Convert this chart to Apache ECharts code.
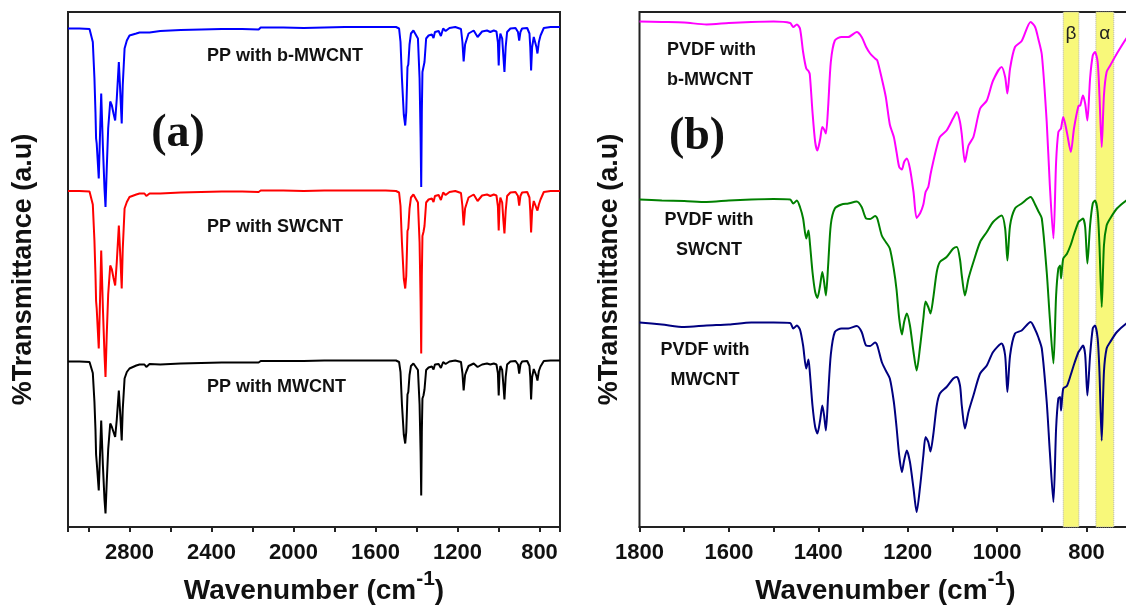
<!DOCTYPE html>
<html>
<head>
<meta charset="utf-8">
<script src="https://cdn.jsdelivr.net/npm/echarts@6.0.0/dist/echarts.min.js"></script>
<style>
html,body{margin:0;padding:0;background:#ffffff;}
#chart{width:1126px;height:605px;}
</style>
</head>
<body>
<div id="chart"></div>
<script>
// ---------- Panel (a): PP composites (wavenumber in cm-1, transmittance in a.u., offset) ----------
const ppWavenumber = [
  3100, 3044, 2995, 2987, 2979, 2971, 2966, 2963, 2960, 2955, 2950, 2943, 2938, 2930, 2922, 2917, 2911, 2904, 2894, 2886,
  2878, 2870, 2862, 2852, 2845, 2838, 2833, 2824, 2813, 2800, 2767, 2751, 2727, 2718, 2702,
  2650, 2550, 2450, 2350, 2250, 2170, 2160, 2050, 1950, 1850, 1750, 1650, 1550,
  1500, 1485, 1478, 1471, 1462, 1455, 1450, 1446, 1444, 1440, 1434, 1427, 1415, 1406, 1393, 1385, 1380, 1377, 1374, 1371,
  1366, 1361, 1353, 1341, 1325, 1317, 1310, 1292, 1281, 1270, 1258, 1251, 1239, 1211, 1183, 1176, 1170, 1163, 1157, 1146,
  1121, 1102, 1080, 1056, 1040, 1023, 1010, 1003, 999, 995, 991, 982, 976, 971, 965, 958, 942, 917, 905, 899,
  893, 885, 860, 849, 845, 841, 836, 828, 820, 815, 810, 803, 795, 779, 746, 700
];
const ppBMWCNT = [
  99.7, 99.7, 99.6, 99.3, 97, 89.7, 83, 77.7, 76.7, 76.3, 69.7, 79.7, 86.7, 76.3, 67.7, 64, 71.7, 79.7, 85.1, 84.3,
  82.7, 81.3, 85.7, 93, 87, 80.7, 88.3, 95.7, 97.3, 98.3, 98.7, 98.9, 98.9, 98.5, 98.9,
  99.2, 99.4, 99.5, 99.6, 99.6, 99.5, 99.9, 99.9, 99.8, 99.9, 100, 100, 100,
  100, 99.7, 97, 89.7, 82.5, 80.3, 83, 89, 92, 92.5, 96.5, 98.7, 99.3, 99.3, 97.7, 89.7, 78, 68, 83, 91,
  91.3, 93, 97.7, 98.3, 98.5, 97.8, 99, 99.2, 98.2, 99.7, 99.2, 98.8, 99.8, 100, 99.6, 97, 93.1, 96.5, 97.3, 98.7,
  99.3, 98, 99.1, 99.3, 99, 99.3, 99.1, 97, 92.3, 97, 98.7, 97.7, 94, 91, 96, 99, 99.7, 99.8, 99, 97.3,
  99, 99.7, 99.8, 98.7, 96, 91.3, 96, 98, 97.7, 96, 94.7, 97, 98.3, 99.8, 100, 100
];
const ppSWCNT = [
  67.2, 67.2, 67.1, 66.8, 64.5, 57.2, 50.5, 45.2, 43.7, 43.3, 35.7, 46.5, 55.3, 44, 34.5, 30, 38.5, 46.5, 52.3, 51.5,
  49.8, 48.3, 53, 60.3, 54.3, 47.7, 55.5, 63.7, 65, 66, 66.5, 66.7, 66.7, 66.2, 66.7,
  66.7, 66.9, 67, 67.1, 67.1, 67, 67.3, 67.3, 67.2, 67.3, 67.3, 67.3, 67.3,
  67.2, 66.9, 64.2, 56.9, 49.7, 47.7, 50.2, 56.2, 59.2, 59.7, 63.7, 65.9, 66.5, 66.5, 64.9, 56.9, 45.2, 34.7, 50.2, 58.2,
  59, 60.2, 64.9, 65.5, 65.7, 65, 66.2, 66.4, 65.4, 66.9, 66.4, 66, 67, 67.2, 66.8, 64.2, 60.3, 63.7, 64.5, 65.9,
  66.5, 65.2, 66.3, 66.5, 66.2, 66.5, 66.3, 64.2, 59.3, 64.2, 65.9, 64.9, 61.2, 58.7, 63.2, 66.2, 66.9, 67, 66.2, 64.3,
  66.2, 66.9, 67, 65.9, 63.2, 58.9, 63.2, 65.2, 64.9, 63.8, 63.3, 64.5, 65.5, 67, 67.2, 67.2
];
const ppMWCNT = [
  33.1, 33.1, 33, 32.7, 30.8, 25, 19.5, 14.5, 13, 12.7, 7.3, 15.5, 21.3, 12.5, 5.5, 2.7, 9, 15.5, 20.7, 20,
  19, 18, 21.5, 27.3, 22.5, 17.3, 23.5, 29.7, 31, 31.7, 32.3, 32.5, 32.5, 32, 32.6,
  32.5, 32.7, 32.8, 32.9, 32.9, 32.9, 33.2, 33.2, 33.2, 33.3, 33.3, 33.3, 33.3,
  33.3, 33, 31, 24.5, 18.5, 16.7, 19, 24, 26.5, 27, 30.4, 32.2, 32.7, 32.7, 31.4, 24.5, 15, 6.3, 19, 25.7,
  26.3, 27.5, 31.4, 31.9, 32.1, 31.5, 32.5, 32.6, 31.8, 33, 32.6, 32.3, 33.1, 33.3, 33, 30.8, 27.3, 30.4, 31.1, 32.2,
  32.7, 32, 32.5, 32.7, 32.5, 32.7, 32.5, 30.8, 26.3, 30.8, 32.2, 31.4, 28.3, 25.5, 30, 32.5, 33.1, 33.2, 32.5, 30.7,
  32.5, 33.1, 33.2, 32.2, 30, 25.5, 30, 31.6, 31.4, 30.2, 29.3, 31.2, 32.1, 33.2, 33.3, 33.3
];

// ---------- Panel (b): PVDF composites ----------
const pvdfWavenumber = [
  1800, 1750, 1700, 1650, 1600, 1550, 1500, 1463, 1456, 1448,
  1441, 1434, 1427, 1422, 1419, 1413, 1407, 1402, 1396, 1391,
  1387, 1383, 1378, 1372, 1363, 1348, 1333, 1314, 1303, 1293,
  1284, 1273, 1268, 1258, 1249, 1240, 1231, 1225, 1219, 1213,
  1208, 1202, 1195, 1187, 1180, 1172, 1165, 1160, 1154, 1149,
  1143, 1135, 1128, 1113, 1098, 1090, 1083, 1079, 1072, 1064,
  1053, 1038, 1023, 1009, 990, 982, 977, 971, 960, 945,
  925, 915, 908, 900, 889, 882, 874, 868, 863, 859,
  857, 852, 844, 835, 828, 818, 814, 808, 803, 798,
  792, 786, 781, 775, 771, 766, 761, 755, 747, 732,
  711, 700
];
const pvdfBMWCNT = [
  101.1, 101, 100.9, 100.5, 100.8, 101, 101.1, 100.8, 100, 100.5,
  99.7, 95, 91.7, 91.2, 90.5, 83, 77, 75.3, 77.5, 80,
  79.5, 78.7, 84, 93, 97.3, 98, 98, 99, 98, 96,
  94.7, 93.7, 93.3, 89.7, 86, 80.5, 78, 75, 72, 71.5,
  73, 73.7, 71.7, 67, 61.8, 62.8, 64.5, 67, 68, 70.5,
  73, 76, 78, 79.3, 81.8, 83, 81, 78.5, 73, 76.3,
  78, 83.7, 85.3, 89.3, 92, 90, 86.7, 91.7, 96, 97.2,
  101, 100, 97.7, 94.5, 81, 68.3, 57.7, 73, 79, 79.5,
  79.7, 82, 79, 75, 79.7, 84.2, 84.3, 86.3, 84.7, 81.3,
  89.7, 94.3, 95, 93, 86.3, 76, 86.3, 91, 92.3, 94.7,
  97.7, 98.8
];
const pvdfSWCNT = [
  65.5, 65.3, 65.2, 65, 65.3, 65.5, 65.6, 65.5, 64.7, 65.3,
  64, 61.7, 57.7, 59.3, 57, 51, 47, 45.8, 48.3, 51,
  49, 46.3, 52.3, 60.5, 63.7, 64.5, 64.7, 65.1, 64, 61.7,
  61.6, 62.2, 61.7, 58.3, 57, 55.7, 51.5, 47.5, 41.7, 38.5,
  41, 42.7, 40.3, 35, 31.3, 36.3, 41.7, 45.1, 44, 42.7,
  45.7, 51, 53, 54, 55.7, 56, 53.5, 50.3, 46.3, 49.7,
  53, 57, 59, 61, 62.3, 59.7, 53.3, 60.3, 63.7, 64.7,
  66, 64.5, 63.2, 61.7, 51, 41.7, 32.7, 46.3, 51.7, 52.3,
  49.7, 53.7, 54.6, 56.5, 58.5, 61, 61.3, 61.7, 60, 52.7,
  60.3, 64.7, 65.3, 63, 56.3, 44, 56.3, 60.3, 61.7, 63.7,
  65.3, 65.8
];
const pvdfMWCNT = [
  40.9, 40.5, 40, 40.3, 40.5, 40.9, 40.9, 40.8, 39.7, 40.3,
  39.5, 36.3, 31.7, 33.5, 31, 24.3, 20, 18.7, 21.3, 24.3,
  22.3, 19.3, 26.3, 34.5, 39, 39.7, 39.7, 40.2, 39, 36.3,
  36.2, 36.9, 36.3, 33, 31.3, 29.7, 25, 20, 14.3, 11,
  13.3, 15.3, 13, 7.7, 3, 8.3, 14.3, 18, 17, 15.1,
  18.3, 24.3, 26.7, 28, 29.7, 30, 28.3, 24.3, 19.7, 23,
  26.3, 30.7, 32.3, 35, 36.7, 34.3, 27, 34.3, 38.7, 39.3,
  41, 39.5, 38, 35.7, 25, 15, 5, 19.7, 25.7, 26,
  23.3, 27.7, 28.2, 30.5, 32.5, 35, 35.5, 36.3, 34.5, 26.3,
  34.3, 39.7, 40.3, 37.7, 31, 17.3, 31, 35.7, 37, 39,
  40.7, 41.2
];

// highlighted phase bands (cm-1)
const betaBand = [817, 852];
const alphaBand = [739, 779];

// axis ranges / tick labels
const ppRange = [700, 3100];
const pvdfRange = [700, 1800];
const ppTickLabels = [2800, 2400, 2000, 1600, 1200, 800];
const pvdfTickLabels = [1800, 1600, 1400, 1200, 1000, 800];

// ---------- build chart ----------
const FONT = 'Arial, "Liberation Sans", Helvetica, sans-serif';
const SERIF = '"Times New Roman", "Liberation Serif", serif';
const INK = '#111111';

function pairs(xs, ys) { return xs.map((x, i) => [x, ys[i]]); }
function curve(name, xs, ys, color, idx, smooth) {
  return {
    name: name, type: 'line', xAxisIndex: idx, yAxisIndex: idx,
    data: pairs(xs, ys), showSymbol: false, symbol: 'none',
    smooth: smooth, lineStyle: { color: color, width: 2 }, itemStyle: { color: color },
    z: 3, silent: true
  };
}
function xAxisFor(idx, range, extra, labels) {
  return Object.assign({
    gridIndex: idx, type: 'value', min: range[0], max: range[1], inverse: true,
    splitLine: { show: false },
    axisLine: { show: true, onZero: false, lineStyle: { color: '#222', width: 2 } },
    axisTick: { show: true, inside: false, length: 5, lineStyle: { color: '#222', width: 2 } },
    axisLabel: {
      formatter: v => labels.indexOf(v) >= 0 ? String(v) : '',
      fontSize: 22, fontWeight: 'bold', color: INK, fontFamily: FONT, margin: 15,
      hideOverlap: false
    },
    name: 'Wavenumber (cm{sup|-1})', nameLocation: 'middle', nameGap: 42,
    nameTextStyle: {
      fontSize: 28, fontWeight: 'bold', color: INK, fontFamily: FONT,
      rich: { sup: { fontSize: 21, fontWeight: 'bold', color: INK, fontFamily: FONT, verticalAlign: 'top', lineHeight: 44 } }
    }
  }, extra);
}
function yAxisFor(idx, gap) {
  return {
    gridIndex: idx, type: 'value', min: 0, max: 103,
    axisLine: { show: false }, axisTick: { show: false }, axisLabel: { show: false }, splitLine: { show: false },
    name: '%Transmittance (a.u)', nameLocation: 'middle', nameRotate: 90, nameGap: gap,
    nameTextStyle: { fontSize: 27, fontWeight: 'bold', color: INK, fontFamily: FONT }
  };
}
function txt(x, y, text, opts) {
  const s = Object.assign({
    text: text, fontSize: 18, fontWeight: 'bold', fontFamily: FONT, fill: INK,
    align: 'left', verticalAlign: 'middle'
  }, opts || {});
  s.textAlign = s.align;
  s.textVerticalAlign = s.verticalAlign;
  return { type: 'text', x: x, y: y, silent: true, z: 10, style: s };
}

const gridBase = { top: 12, height: 515, show: true, borderColor: '#222', borderWidth: 2, backgroundColor: 'transparent', containLabel: false, outerBoundsMode: 'none' };

const option = {
  animation: false,
  backgroundColor: '#ffffff',
  grid: [
    Object.assign({ left: 68, width: 492 }, gridBase),
    Object.assign({ left: 639.5, width: 491.7 }, gridBase)
  ],
  xAxis: [
    xAxisFor(0, ppRange, { minInterval: 200, maxInterval: 200, splitNumber: 12 }, ppTickLabels),
    xAxisFor(1, pvdfRange, { interval: 100 }, pvdfTickLabels)
  ],
  yAxis: [ yAxisFor(0, 31), yAxisFor(1, 16) ],
  series: [
    {
      name: 'bands', type: 'line', xAxisIndex: 1, yAxisIndex: 1, data: [], z: 1, silent: true,
      markArea: {
        silent: true,
        itemStyle: { color: '#f8f87a', borderColor: '#b0b0b0', borderWidth: 1, borderType: 'dotted' },
        label: { show: true, position: 'insideTop', distance: 13, fontSize: 19, color: '#222', fontFamily: FONT },
        data: [
          [ { name: 'β', xAxis: betaBand[1] }, { xAxis: betaBand[0] } ],
          [ { name: 'α', xAxis: alphaBand[1] }, { xAxis: alphaBand[0] } ]
        ]
      }
    },
    curve('PP with b-MWCNT', ppWavenumber, ppBMWCNT, '#0000ff', 0, false),
    curve('PP with SWCNT', ppWavenumber, ppSWCNT, '#ff0000', 0, false),
    curve('PP with MWCNT', ppWavenumber, ppMWCNT, '#000000', 0, false),
    curve('PVDF with b-MWCNT', pvdfWavenumber, pvdfBMWCNT, '#ff00ff', 1, 0.25),
    curve('PVDF with SWCNT', pvdfWavenumber, pvdfSWCNT, '#008000', 1, 0.25),
    curve('PVDF with MWCNT', pvdfWavenumber, pvdfMWCNT, '#000080', 1, 0.25)
  ],
  graphic: [
    txt(207, 56, 'PP with b-MWCNT'),
    txt(207, 227, 'PP with SWCNT'),
    txt(207, 387, 'PP with MWCNT'),
    txt(178, 134, '(a)', { fontSize: 46, fontFamily: SERIF, align: 'center' }),
    txt(697, 137, '(b)', { fontSize: 46, fontFamily: SERIF, align: 'center' }),
    txt(667, 65, 'PVDF with\nb-MWCNT', { lineHeight: 30 }),
    txt(709, 235, 'PVDF with\nSWCNT', { lineHeight: 30, align: 'center' }),
    txt(705, 365, 'PVDF with\nMWCNT', { lineHeight: 30, align: 'center' })
  ]
};

const chart = echarts.init(document.getElementById('chart'), null, { renderer: 'canvas', width: 1126, height: 605 });
chart.setOption(option);
</script>
</body>
</html>
